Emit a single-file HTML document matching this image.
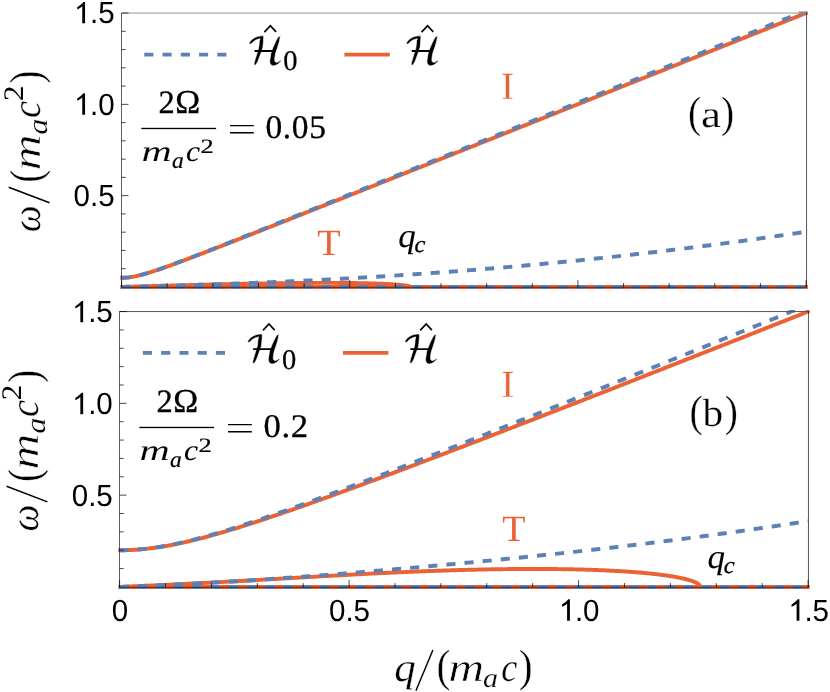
<!DOCTYPE html>
<html lang="en"><head><meta charset="utf-8"><title>Dispersion relations</title>
<style>html,body{margin:0;padding:0;background:#fff}body{width:830px;height:692px;overflow:hidden;font-family:"Liberation Serif",serif}svg{display:block}</style></head><body>
<svg width="830" height="692" viewBox="0 0 830 692" font-family="'Liberation Serif', serif" style="will-change:transform;text-rendering:geometricPrecision">
<rect width="830" height="692" fill="#fff"/>
<clipPath id="clipA"><rect x="120.30" y="11.45" width="687.55" height="278.25"/></clipPath>
<g clip-path="url(#clipA)" fill="none" stroke-width="3.95" stroke-linejoin="round">
<path stroke="#EB6235" d="M119.50 286.95H809.55"/>
<polyline stroke="#EB6235" points="121.60,286.95 122.73,286.92 123.87,286.89 125.00,286.85 126.13,286.82 127.27,286.79 128.40,286.76 129.53,286.73 130.66,286.69 131.80,286.66 132.93,286.63 134.06,286.60 135.19,286.57 136.33,286.53 137.46,286.50 138.59,286.47 139.72,286.44 140.85,286.41 141.98,286.37 143.11,286.34 144.24,286.31 145.37,286.28 146.50,286.25 147.63,286.22 148.76,286.18 149.89,286.15 151.01,286.12 152.14,286.09 153.27,286.06 154.39,286.03 155.52,286.00 156.65,285.97 157.77,285.93 158.89,285.90 160.02,285.87 161.14,285.84 162.26,285.81 163.38,285.78 164.51,285.75 165.63,285.72 166.75,285.69 167.86,285.66 168.98,285.63 170.10,285.60 171.22,285.57 172.33,285.54 173.45,285.51 174.56,285.48 175.68,285.45 176.79,285.42 177.90,285.39 179.01,285.36 180.12,285.33 181.23,285.30 182.34,285.27 183.45,285.24 184.55,285.21 185.66,285.18 186.76,285.15 187.87,285.12 188.97,285.10 190.07,285.07 191.17,285.04 192.27,285.01 193.37,284.98 194.47,284.95 195.56,284.93 196.66,284.90 197.75,284.87 198.84,284.84 199.93,284.82 201.02,284.79 202.11,284.76 203.20,284.74 204.29,284.71 205.37,284.68 206.46,284.65 207.54,284.63 208.62,284.60 209.70,284.58 210.78,284.55 211.86,284.52 212.93,284.50 214.01,284.47 215.08,284.45 216.15,284.42 217.22,284.40 218.29,284.37 219.36,284.35 220.42,284.32 221.49,284.30 222.55,284.27 223.61,284.25 224.67,284.23 225.73,284.20 226.78,284.18 227.84,284.15 228.89,284.13 229.94,284.11 230.99,284.09 232.04,284.06 233.08,284.04 234.13,284.02 235.17,284.00 236.21,283.97 237.25,283.95 238.29,283.93 239.32,283.91 240.36,283.89 241.39,283.87 242.42,283.85 243.45,283.82 244.48,283.80 245.50,283.78 246.52,283.76 247.54,283.74 248.56,283.72 249.58,283.70 250.59,283.68 251.61,283.67 252.62,283.65 253.63,283.63 254.63,283.61 255.64,283.59 256.64,283.57 257.64,283.56 258.64,283.54 259.63,283.52 260.63,283.50 261.62,283.49 262.61,283.47 263.60,283.45 264.58,283.44 265.57,283.42 266.55,283.40 267.53,283.39 268.50,283.37 269.48,283.36 270.45,283.34 271.42,283.33 272.39,283.31 273.35,283.30 274.32,283.28 275.28,283.27 276.23,283.26 277.19,283.24 278.14,283.23 279.09,283.22 280.04,283.20 280.99,283.19 281.93,283.18 282.87,283.17 283.81,283.15 284.75,283.14 285.68,283.13 286.61,283.12 287.54,283.11 288.47,283.10 289.39,283.09 290.31,283.08 291.23,283.07 292.14,283.06 293.06,283.05 293.97,283.04 294.87,283.03 295.78,283.02 296.68,283.01 297.58,283.00 298.48,283.00 299.37,282.99 300.26,282.98 301.15,282.97 302.04,282.97 302.92,282.96 303.80,282.95 304.68,282.95 305.55,282.94 306.43,282.93 307.29,282.93 308.16,282.92 309.02,282.92 309.88,282.91 310.74,282.91 311.60,282.90 312.45,282.90 313.30,282.90 314.14,282.89 314.98,282.89 315.82,282.89 316.66,282.88 317.49,282.88 318.33,282.88 319.15,282.87 319.98,282.87 320.80,282.87 321.62,282.87 322.43,282.87 323.25,282.87 324.05,282.87 324.86,282.87 325.66,282.87 326.46,282.87 327.26,282.87 328.05,282.87 328.84,282.87 329.63,282.87 330.41,282.87 331.20,282.87 331.97,282.87 332.75,282.88 333.52,282.88 334.29,282.88 335.05,282.89 335.81,282.89 336.57,282.89 337.32,282.90 338.07,282.90 338.82,282.90 339.57,282.91 340.31,282.91 341.05,282.92 341.78,282.92 342.51,282.93 343.24,282.93 343.96,282.94 344.68,282.95 345.40,282.95 346.11,282.96 346.82,282.97 347.53,282.97 348.23,282.98 348.93,282.99 349.63,283.00 350.32,283.00 351.01,283.01 351.70,283.02 352.38,283.03 353.06,283.04 353.73,283.05 354.41,283.06 355.07,283.07 355.74,283.08 356.40,283.09 357.06,283.10 357.71,283.11 358.36,283.12 359.01,283.13 359.65,283.14 360.29,283.15 360.92,283.17 361.55,283.18 362.18,283.19 362.81,283.20 363.43,283.22 364.04,283.23 364.66,283.24 365.26,283.26 365.87,283.27 366.47,283.28 367.07,283.30 367.66,283.31 368.25,283.33 368.84,283.34 369.42,283.36 370.00,283.37 370.58,283.39 371.15,283.40 371.71,283.42 372.28,283.44 372.84,283.45 373.39,283.47 373.94,283.49 374.49,283.50 375.04,283.52 375.58,283.54 376.11,283.56 376.65,283.57 377.17,283.59 377.70,283.61 378.22,283.63 378.74,283.65 379.25,283.67 379.76,283.68 380.26,283.70 380.76,283.72 381.26,283.74 381.75,283.76 382.24,283.78 382.72,283.80 383.20,283.82 383.68,283.85 384.15,283.87 384.62,283.89 385.09,283.91 385.55,283.93 386.00,283.95 386.45,283.97 386.90,284.00 387.35,284.02 387.79,284.04 388.22,284.06 388.65,284.09 389.08,284.11 389.50,284.13 389.92,284.15 390.34,284.18 390.75,284.20 391.16,284.23 391.56,284.25 391.96,284.27 392.35,284.30 392.74,284.32 393.13,284.35 393.51,284.37 393.89,284.40 394.26,284.42 394.63,284.45 395.00,284.47 395.36,284.50 395.71,284.52 396.06,284.55 396.41,284.58 396.76,284.60 397.10,284.63 397.43,284.65 397.76,284.68 398.09,284.71 398.41,284.74 398.73,284.76 399.04,284.79 399.35,284.82 399.66,284.84 399.96,284.87 400.26,284.90 400.55,284.93 400.84,284.95 401.12,284.98 401.40,285.01 401.68,285.04 401.95,285.07 402.22,285.10 402.48,285.12 402.74,285.15 402.99,285.18 403.24,285.21 403.48,285.24 403.73,285.27 403.96,285.30 404.19,285.33 404.42,285.36 404.64,285.39 404.86,285.42 405.08,285.45 405.29,285.48 405.49,285.51 405.70,285.54 405.89,285.57 406.08,285.60 406.27,285.63 406.46,285.66 406.64,285.69 406.81,285.72 406.98,285.75 407.15,285.78 407.31,285.81 407.47,285.84 407.62,285.87 407.77,285.90 407.91,285.93 408.05,285.97 408.19,286.00 408.32,286.03 408.45,286.06 408.57,286.09 408.69,286.12 408.80,286.15 408.91,286.18 409.01,286.22 409.11,286.25 409.21,286.28 409.30,286.31 409.39,286.34 409.47,286.37 409.55,286.41 409.62,286.44 409.69,286.47 409.75,286.50 409.81,286.53 409.87,286.57 409.92,286.60 409.97,286.63 410.01,286.66 410.05,286.69 410.08,286.73 410.11,286.76 410.13,286.79 410.15,286.82 410.17,286.85 410.18,286.89 410.19,286.92 410.19,286.95"/>
<polyline stroke="#EB6235" points="119.77,277.79 122.09,277.82 124.41,277.75 126.73,277.59 129.05,277.35 131.36,277.02 133.68,276.62 136.00,276.16 138.32,275.63 140.64,275.06 142.95,274.45 145.27,273.80 147.59,273.11 149.91,272.41 152.23,271.67 154.54,270.92 156.86,270.15 159.18,269.36 161.50,268.57 163.82,267.75 166.13,266.93 168.45,266.11 170.77,265.27 173.09,264.42 175.41,263.57 177.72,262.72 180.04,261.86 182.36,260.99 184.68,260.12 187.00,259.25 189.31,258.37 191.63,257.49 193.95,256.61 196.27,255.72 198.59,254.83 200.90,253.94 203.22,253.05 205.54,252.16 207.86,251.26 210.18,250.37 212.49,249.47 214.81,248.57 217.13,247.67 219.45,246.76 221.77,245.86 224.08,244.96 226.40,244.05 228.72,243.14 231.04,242.24 233.36,241.33 235.67,240.42 237.99,239.51 240.31,238.60 242.63,237.69 244.95,236.78 247.27,235.87 249.58,234.95 251.90,234.04 254.22,233.13 256.54,232.21 258.86,231.30 261.17,230.39 263.49,229.47 265.81,228.56 268.13,227.64 270.45,226.72 272.76,225.81 275.08,224.89 277.40,223.97 279.72,223.05 282.04,222.14 284.35,221.22 286.67,220.30 288.99,219.38 291.31,218.46 293.63,217.54 295.94,216.63 298.26,215.71 300.58,214.79 302.90,213.87 305.22,212.95 307.53,212.03 309.85,211.11 312.17,210.19 314.49,209.27 316.81,208.35 319.12,207.42 321.44,206.50 323.76,205.58 326.08,204.66 328.40,203.74 330.71,202.82 333.03,201.90 335.35,200.97 337.67,200.05 339.99,199.13 342.30,198.21 344.62,197.29 346.94,196.36 349.26,195.44 351.58,194.52 353.89,193.60 356.21,192.67 358.53,191.75 360.85,190.83 363.17,189.90 365.48,188.98 367.80,188.06 370.12,187.14 372.44,186.21 374.76,185.29 377.07,184.37 379.39,183.44 381.71,182.52 384.03,181.60 386.35,180.67 388.66,179.75 390.98,178.82 393.30,177.90 395.62,176.98 397.94,176.05 400.25,175.13 402.57,174.20 404.89,173.28 407.21,172.36 409.53,171.43 411.84,170.51 414.16,169.58 416.48,168.66 418.80,167.73 421.12,166.81 423.43,165.89 425.75,164.96 428.07,164.04 430.39,163.11 432.71,162.19 435.02,161.26 437.34,160.34 439.66,159.41 441.98,158.49 444.30,157.56 446.61,156.64 448.93,155.71 451.25,154.79 453.57,153.87 455.89,152.94 458.20,152.02 460.52,151.09 462.84,150.17 465.16,149.24 467.48,148.32 469.79,147.39 472.11,146.46 474.43,145.54 476.75,144.61 479.07,143.69 481.38,142.76 483.70,141.84 486.02,140.91 488.34,139.99 490.66,139.06 492.97,138.14 495.29,137.21 497.61,136.29 499.93,135.36 502.25,134.44 504.56,133.51 506.88,132.59 509.20,131.66 511.52,130.73 513.84,129.81 516.15,128.88 518.47,127.96 520.79,127.03 523.11,126.11 525.43,125.18 527.74,124.26 530.06,123.33 532.38,122.40 534.70,121.48 537.02,120.55 539.33,119.63 541.65,118.70 543.97,117.78 546.29,116.85 548.61,115.92 550.92,115.00 553.24,114.07 555.56,113.15 557.88,112.22 560.20,111.29 562.51,110.37 564.83,109.44 567.15,108.52 569.47,107.59 571.79,106.67 574.10,105.74 576.42,104.81 578.74,103.89 581.06,102.96 583.38,102.04 585.69,101.11 588.01,100.18 590.33,99.26 592.65,98.33 594.97,97.41 597.28,96.48 599.60,95.55 601.92,94.63 604.24,93.70 606.56,92.78 608.87,91.85 611.19,90.92 613.51,90.00 615.83,89.07 618.15,88.15 620.46,87.22 622.78,86.29 625.10,85.37 627.42,84.44 629.74,83.51 632.05,82.59 634.37,81.66 636.69,80.74 639.01,79.81 641.33,78.88 643.64,77.96 645.96,77.03 648.28,76.11 650.60,75.18 652.92,74.25 655.23,73.33 657.55,72.40 659.87,71.47 662.19,70.55 664.51,69.62 666.82,68.70 669.14,67.77 671.46,66.84 673.78,65.92 676.10,64.99 678.41,64.06 680.73,63.14 683.05,62.21 685.37,61.28 687.69,60.36 690.00,59.43 692.32,58.51 694.64,57.58 696.96,56.65 699.28,55.73 701.59,54.80 703.91,53.87 706.23,52.95 708.55,52.02 710.87,51.09 713.18,50.17 715.50,49.24 717.82,48.32 720.14,47.39 722.46,46.46 724.77,45.54 727.09,44.61 729.41,43.68 731.73,42.76 734.05,41.83 736.36,40.90 738.68,39.98 741.00,39.05 743.32,38.12 745.64,37.20 747.95,36.27 750.27,35.35 752.59,34.42 754.91,33.49 757.23,32.57 759.54,31.64 761.86,30.71 764.18,29.79 766.50,28.86 768.82,27.93 771.13,27.01 773.45,26.08 775.77,25.15 778.09,24.23 780.41,23.30 782.72,22.37 785.04,21.45 787.36,20.52 789.68,19.59 792.00,18.67 794.31,17.74 796.63,16.81 798.95,15.89 801.27,14.96 803.59,14.03 805.90,13.11 808.22,12.18 810.54,11.26 812.86,10.33 815.18,9.40"/>
<g stroke="#5E81B5" stroke-dasharray="9.1 9.1">
<polyline points="121.60,286.95 463.82,286.95 806.05,286.95"/>
<polyline points="121.60,286.95 123.88,286.89 126.16,286.83 128.44,286.77 130.73,286.71 133.01,286.65 135.29,286.59 137.57,286.54 139.85,286.48 142.13,286.42 144.41,286.36 146.70,286.30 148.98,286.23 151.26,286.17 153.54,286.11 155.82,286.05 158.10,285.99 160.39,285.93 162.67,285.86 164.95,285.80 167.23,285.74 169.51,285.67 171.79,285.61 174.07,285.55 176.36,285.48 178.64,285.41 180.92,285.35 183.20,285.28 185.48,285.21 187.76,285.15 190.04,285.08 192.33,285.01 194.61,284.94 196.89,284.87 199.17,284.80 201.45,284.73 203.73,284.65 206.02,284.58 208.30,284.51 210.58,284.43 212.86,284.36 215.14,284.28 217.42,284.21 219.70,284.13 221.99,284.05 224.27,283.97 226.55,283.89 228.83,283.81 231.11,283.73 233.39,283.65 235.67,283.57 237.96,283.48 240.24,283.40 242.52,283.31 244.80,283.23 247.08,283.14 249.36,283.05 251.65,282.96 253.93,282.87 256.21,282.78 258.49,282.69 260.77,282.60 263.05,282.51 265.33,282.41 267.62,282.32 269.90,282.22 272.18,282.13 274.46,282.03 276.74,281.93 279.02,281.83 281.30,281.73 283.59,281.63 285.87,281.53 288.15,281.43 290.43,281.32 292.71,281.22 294.99,281.11 297.28,281.00 299.56,280.90 301.84,280.79 304.12,280.68 306.40,280.57 308.68,280.46 310.96,280.35 313.25,280.23 315.53,280.12 317.81,280.00 320.09,279.89 322.37,279.77 324.65,279.65 326.93,279.54 329.22,279.42 331.50,279.30 333.78,279.17 336.06,279.05 338.34,278.93 340.62,278.80 342.91,278.68 345.19,278.55 347.47,278.43 349.75,278.30 352.03,278.17 354.31,278.04 356.59,277.91 358.88,277.78 361.16,277.64 363.44,277.51 365.72,277.38 368.00,277.24 370.28,277.10 372.56,276.97 374.85,276.83 377.13,276.69 379.41,276.55 381.69,276.41 383.97,276.26 386.25,276.12 388.54,275.98 390.82,275.83 393.10,275.68 395.38,275.54 397.66,275.39 399.94,275.24 402.22,275.09 404.51,274.94 406.79,274.79 409.07,274.63 411.35,274.48 413.63,274.32 415.91,274.17 418.19,274.01 420.48,273.85 422.76,273.69 425.04,273.53 427.32,273.37 429.60,273.21 431.88,273.05 434.17,272.88 436.45,272.72 438.73,272.55 441.01,272.39 443.29,272.22 445.57,272.05 447.85,271.88 450.14,271.71 452.42,271.54 454.70,271.36 456.98,271.19 459.26,271.01 461.54,270.84 463.82,270.66 466.11,270.48 468.39,270.30 470.67,270.12 472.95,269.94 475.23,269.76 477.51,269.58 479.80,269.39 482.08,269.21 484.36,269.02 486.64,268.83 488.92,268.64 491.20,268.45 493.48,268.26 495.77,268.07 498.05,267.88 500.33,267.68 502.61,267.49 504.89,267.29 507.17,267.10 509.45,266.90 511.74,266.70 514.02,266.50 516.30,266.30 518.58,266.09 520.86,265.89 523.14,265.69 525.43,265.48 527.71,265.27 529.99,265.07 532.27,264.86 534.55,264.65 536.83,264.44 539.11,264.23 541.40,264.01 543.68,263.80 545.96,263.58 548.24,263.37 550.52,263.15 552.80,262.93 555.08,262.71 557.37,262.49 559.65,262.27 561.93,262.05 564.21,261.82 566.49,261.60 568.77,261.37 571.06,261.14 573.34,260.91 575.62,260.69 577.90,260.46 580.18,260.22 582.46,259.99 584.74,259.76 587.03,259.52 589.31,259.29 591.59,259.05 593.87,258.81 596.15,258.57 598.43,258.33 600.71,258.09 603.00,257.85 605.28,257.60 607.56,257.36 609.84,257.11 612.12,256.86 614.40,256.62 616.69,256.37 618.97,256.12 621.25,255.87 623.53,255.61 625.81,255.36 628.09,255.10 630.37,254.85 632.66,254.59 634.94,254.33 637.22,254.07 639.50,253.81 641.78,253.55 644.06,253.29 646.34,253.03 648.63,252.76 650.91,252.49 653.19,252.23 655.47,251.96 657.75,251.69 660.03,251.42 662.32,251.15 664.60,250.87 666.88,250.60 669.16,250.33 671.44,250.05 673.72,249.77 676.00,249.49 678.29,249.21 680.57,248.93 682.85,248.65 685.13,248.37 687.41,248.09 689.69,247.80 691.98,247.51 694.26,247.23 696.54,246.94 698.82,246.65 701.10,246.36 703.38,246.07 705.66,245.77 707.95,245.48 710.23,245.18 712.51,244.89 714.79,244.59 717.07,244.29 719.35,243.99 721.63,243.69 723.92,243.39 726.20,243.09 728.48,242.78 730.76,242.48 733.04,242.17 735.32,241.86 737.61,241.55 739.89,241.24 742.17,240.93 744.45,240.62 746.73,240.31 749.01,239.99 751.29,239.68 753.58,239.36 755.86,239.04 758.14,238.72 760.42,238.40 762.70,238.08 764.98,237.76 767.26,237.44 769.55,237.11 771.83,236.79 774.11,236.46 776.39,236.13 778.67,235.80 780.95,235.47 783.23,235.14 785.52,234.81 787.80,234.47 790.08,234.14 792.36,233.80 794.64,233.47 796.92,233.13 799.21,232.79 801.49,232.45 803.77,232.11 806.05,231.76"/>
<polyline points="121.60,277.82 123.88,277.77 126.16,277.64 128.44,277.41 130.73,277.11 133.01,276.73 135.29,276.28 137.57,275.78 139.85,275.22 142.13,274.62 144.41,273.99 146.70,273.32 148.98,272.62 151.26,271.90 153.54,271.16 155.82,270.40 158.10,269.62 160.39,268.83 162.67,268.03 164.95,267.22 167.23,266.40 169.51,265.57 171.79,264.74 174.07,263.89 176.36,263.05 178.64,262.19 180.92,261.33 183.20,260.47 185.48,259.61 187.76,258.74 190.04,257.86 192.33,256.99 194.61,256.11 196.89,255.23 199.17,254.35 201.45,253.46 203.73,252.58 206.02,251.69 208.30,250.80 210.58,249.91 212.86,249.01 215.14,248.12 217.42,247.23 219.70,246.33 221.99,245.43 224.27,244.53 226.55,243.63 228.83,242.73 231.11,241.83 233.39,240.93 235.67,240.03 237.96,239.12 240.24,238.22 242.52,237.32 244.80,236.41 247.08,235.51 249.36,234.60 251.65,233.69 253.93,232.79 256.21,231.88 258.49,230.97 260.77,230.06 263.05,229.15 265.33,228.24 267.62,227.33 269.90,226.42 272.18,225.51 274.46,224.60 276.74,223.69 279.02,222.78 281.30,221.87 283.59,220.96 285.87,220.05 288.15,219.14 290.43,218.22 292.71,217.31 294.99,216.40 297.28,215.49 299.56,214.57 301.84,213.66 304.12,212.75 306.40,211.83 308.68,210.92 310.96,210.00 313.25,209.09 315.53,208.18 317.81,207.26 320.09,206.35 322.37,205.43 324.65,204.52 326.93,203.60 329.22,202.69 331.50,201.77 333.78,200.86 336.06,199.94 338.34,199.03 340.62,198.11 342.91,197.20 345.19,196.28 347.47,195.36 349.75,194.45 352.03,193.53 354.31,192.62 356.59,191.70 358.88,190.78 361.16,189.87 363.44,188.95 365.72,188.03 368.00,187.12 370.28,186.20 372.56,185.28 374.85,184.37 377.13,183.45 379.41,182.53 381.69,181.62 383.97,180.70 386.25,179.78 388.54,178.87 390.82,177.95 393.10,177.03 395.38,176.11 397.66,175.20 399.94,174.28 402.22,173.36 404.51,172.44 406.79,171.53 409.07,170.61 411.35,169.69 413.63,168.77 415.91,167.85 418.19,166.94 420.48,166.02 422.76,165.10 425.04,164.18 427.32,163.27 429.60,162.35 431.88,161.43 434.17,160.51 436.45,159.59 438.73,158.67 441.01,157.76 443.29,156.84 445.57,155.92 447.85,155.00 450.14,154.08 452.42,153.17 454.70,152.25 456.98,151.33 459.26,150.41 461.54,149.49 463.82,148.57 466.11,147.65 468.39,146.74 470.67,145.82 472.95,144.90 475.23,143.98 477.51,143.06 479.80,142.14 482.08,141.22 484.36,140.31 486.64,139.39 488.92,138.47 491.20,137.55 493.48,136.63 495.77,135.71 498.05,134.79 500.33,133.87 502.61,132.96 504.89,132.04 507.17,131.12 509.45,130.20 511.74,129.28 514.02,128.36 516.30,127.44 518.58,126.52 520.86,125.60 523.14,124.68 525.43,123.77 527.71,122.85 529.99,121.93 532.27,121.01 534.55,120.09 536.83,119.17 539.11,118.25 541.40,117.33 543.68,116.41 545.96,115.49 548.24,114.57 550.52,113.66 552.80,112.74 555.08,111.82 557.37,110.90 559.65,109.98 561.93,109.06 564.21,108.14 566.49,107.22 568.77,106.30 571.06,105.38 573.34,104.46 575.62,103.54 577.90,102.62 580.18,101.70 582.46,100.78 584.74,99.87 587.03,98.95 589.31,98.03 591.59,97.11 593.87,96.19 596.15,95.27 598.43,94.35 600.71,93.43 603.00,92.51 605.28,91.59 607.56,90.67 609.84,89.75 612.12,88.83 614.40,87.91 616.69,86.99 618.97,86.07 621.25,85.15 623.53,84.23 625.81,83.31 628.09,82.39 630.37,81.48 632.66,80.56 634.94,79.64 637.22,78.72 639.50,77.80 641.78,76.88 644.06,75.96 646.34,75.04 648.63,74.12 650.91,73.20 653.19,72.28 655.47,71.36 657.75,70.44 660.03,69.52 662.32,68.60 664.60,67.68 666.88,66.76 669.16,65.84 671.44,64.92 673.72,64.00 676.00,63.08 678.29,62.16 680.57,61.24 682.85,60.32 685.13,59.40 687.41,58.48 689.69,57.56 691.98,56.64 694.26,55.72 696.54,54.80 698.82,53.88 701.10,52.96 703.38,52.04 705.66,51.12 707.95,50.21 710.23,49.29 712.51,48.37 714.79,47.45 717.07,46.53 719.35,45.61 721.63,44.69 723.92,43.77 726.20,42.85 728.48,41.93 730.76,41.01 733.04,40.09 735.32,39.17 737.61,38.25 739.89,37.33 742.17,36.41 744.45,35.49 746.73,34.57 749.01,33.65 751.29,32.73 753.58,31.81 755.86,30.89 758.14,29.97 760.42,29.05 762.70,28.13 764.98,27.21 767.26,26.29 769.55,25.37 771.83,24.45 774.11,23.53 776.39,22.61 778.67,21.69 780.95,20.77 783.23,19.85 785.52,18.93 787.80,18.01 790.08,17.09 792.36,16.17 794.64,15.25 796.92,14.33 799.21,13.41 801.49,12.49 803.77,11.57 806.05,10.65"/>
</g></g>
<path d="M121.50 13.05H806.55" fill="none" stroke="#979797" stroke-width="1"/>
<path d="M806.55 12.55V287.30" fill="none" stroke="#000" stroke-opacity="0.7" stroke-width="0.95"/>
<path d="M121.50 13.05V287.30H806.55" fill="none" stroke="#000" stroke-opacity="0.62" stroke-width="1"/>
<path d="M121.60 287.30v-7.20M121.50 268.69h4.20M167.23 287.30v-4.20M121.50 250.43h4.20M212.86 287.30v-4.20M121.50 232.17h4.20M258.49 287.30v-4.20M121.50 213.91h4.20M304.12 287.30v-4.20M121.50 195.65h7.00M349.75 287.30v-7.20M121.50 177.39h4.20M395.38 287.30v-4.20M121.50 159.13h4.20M441.01 287.30v-4.20M121.50 140.87h4.20M486.64 287.30v-4.20M121.50 122.61h4.20M532.27 287.30v-4.20M121.50 104.35h7.00M577.90 287.30v-7.20M121.50 86.09h4.20M623.53 287.30v-4.20M121.50 67.83h4.20M669.16 287.30v-4.20M121.50 49.57h4.20M714.79 287.30v-4.20M121.50 31.31h4.20M760.42 287.30v-4.20M121.50 13.05h7.00M806.05 287.30v-7.20" fill="none" stroke="#000" stroke-opacity="0.8" stroke-width="0.9"/>
<clipPath id="clipB"><rect x="118.30" y="309.95" width="691.45" height="279.75"/></clipPath>
<g clip-path="url(#clipB)" fill="none" stroke-width="3.95" stroke-linejoin="round">
<path stroke="#EB6235" d="M117.50 586.95H811.45"/>
<polyline stroke="#EB6235" points="119.60,586.95 121.88,586.85 124.16,586.75 126.44,586.64 128.72,586.54 131.00,586.44 133.28,586.34 135.56,586.23 137.84,586.13 140.12,586.03 142.39,585.93 144.67,585.82 146.95,585.72 149.23,585.61 151.50,585.51 153.78,585.40 156.06,585.30 158.33,585.19 160.61,585.09 162.88,584.98 165.15,584.87 167.43,584.77 169.70,584.66 171.97,584.55 174.24,584.44 176.51,584.33 178.78,584.22 181.04,584.11 183.31,584.00 185.58,583.89 187.84,583.78 190.11,583.66 192.37,583.55 194.63,583.43 196.89,583.32 199.15,583.20 201.41,583.09 203.66,582.97 205.92,582.86 208.17,582.74 210.42,582.62 212.68,582.50 214.93,582.38 217.17,582.26 219.42,582.14 221.67,582.02 223.91,581.90 226.15,581.78 228.39,581.65 230.63,581.53 232.87,581.41 235.10,581.28 237.34,581.16 239.57,581.04 241.80,580.91 244.03,580.79 246.25,580.66 248.48,580.53 250.70,580.41 252.92,580.28 255.14,580.16 257.35,580.03 259.57,579.90 261.78,579.77 263.99,579.65 266.20,579.52 268.40,579.39 270.60,579.26 272.80,579.14 275.00,579.01 277.20,578.88 279.39,578.75 281.58,578.63 283.77,578.50 285.95,578.37 288.14,578.24 290.32,578.12 292.50,577.99 294.67,577.86 296.84,577.74 299.01,577.61 301.18,577.48 303.34,577.36 305.51,577.23 307.66,577.11 309.82,576.98 311.97,576.86 314.12,576.74 316.27,576.61 318.41,576.49 320.55,576.37 322.69,576.25 324.83,576.13 326.96,576.00 329.08,575.88 331.21,575.76 333.33,575.65 335.45,575.53 337.56,575.41 339.68,575.29 341.78,575.18 343.89,575.06 345.99,574.95 348.09,574.83 350.18,574.72 352.27,574.61 354.36,574.50 356.44,574.39 358.52,574.28 360.60,574.17 362.67,574.06 364.74,573.95 366.80,573.85 368.87,573.74 370.92,573.64 372.98,573.54 375.03,573.43 377.07,573.33 379.11,573.23 381.15,573.13 383.18,573.03 385.21,572.94 387.24,572.84 389.26,572.75 391.28,572.65 393.29,572.56 395.30,572.47 397.30,572.38 399.30,572.29 401.30,572.20 403.29,572.11 405.28,572.02 407.26,571.94 409.24,571.85 411.21,571.77 413.18,571.69 415.15,571.61 417.11,571.53 419.06,571.45 421.01,571.37 422.96,571.30 424.90,571.22 426.84,571.15 428.77,571.08 430.70,571.00 432.62,570.93 434.54,570.86 436.45,570.80 438.36,570.73 440.26,570.67 442.16,570.60 444.05,570.54 445.94,570.48 447.83,570.42 449.70,570.36 451.58,570.30 453.44,570.24 455.31,570.19 457.17,570.13 459.02,570.08 460.86,570.03 462.71,569.98 464.54,569.93 466.37,569.88 468.20,569.83 470.02,569.79 471.84,569.74 473.65,569.70 475.45,569.66 477.25,569.61 479.04,569.57 480.83,569.54 482.61,569.50 484.39,569.46 486.16,569.43 487.93,569.39 489.68,569.36 491.44,569.33 493.19,569.30 494.93,569.27 496.67,569.25 498.40,569.22 500.12,569.19 501.84,569.17 503.55,569.15 505.26,569.13 506.96,569.11 508.66,569.09 510.35,569.07 512.03,569.05 513.71,569.04 515.38,569.02 517.04,569.01 518.70,569.00 520.36,568.99 522.00,568.98 523.64,568.97 525.28,568.97 526.91,568.96 528.53,568.96 530.14,568.95 531.75,568.95 533.35,568.95 534.95,568.95 536.54,568.95 538.12,568.95 539.70,568.96 541.27,568.96 542.83,568.97 544.39,568.98 545.94,568.98 547.49,568.99 549.03,569.01 550.56,569.02 552.08,569.03 553.60,569.05 555.11,569.06 556.61,569.08 558.11,569.10 559.60,569.11 561.09,569.14 562.56,569.16 564.04,569.18 565.50,569.20 566.96,569.23 568.41,569.25 569.85,569.28 571.28,569.31 572.71,569.34 574.14,569.37 575.55,569.40 576.96,569.43 578.36,569.47 579.75,569.50 581.14,569.54 582.52,569.57 583.89,569.61 585.26,569.65 586.62,569.69 587.97,569.73 589.31,569.78 590.65,569.82 591.98,569.86 593.30,569.91 594.61,569.96 595.92,570.01 597.22,570.05 598.51,570.10 599.80,570.16 601.08,570.21 602.35,570.26 603.61,570.32 604.86,570.37 606.11,570.43 607.35,570.48 608.59,570.54 609.81,570.60 611.03,570.66 612.24,570.72 613.44,570.79 614.64,570.85 615.83,570.92 617.01,570.98 618.18,571.05 619.34,571.12 620.50,571.18 621.65,571.25 622.79,571.32 623.92,571.40 625.05,571.47 626.17,571.54 627.28,571.62 628.38,571.69 629.47,571.77 630.56,571.84 631.64,571.92 632.71,572.00 633.77,572.08 634.83,572.16 635.87,572.24 636.91,572.33 637.94,572.41 638.97,572.50 639.98,572.58 640.99,572.67 641.99,572.76 642.98,572.84 643.96,572.93 644.94,573.02 645.90,573.11 646.86,573.20 647.81,573.30 648.76,573.39 649.69,573.48 650.62,573.58 651.53,573.68 652.44,573.77 653.34,573.87 654.24,573.97 655.12,574.07 656.00,574.17 656.87,574.27 657.73,574.37 658.58,574.47 659.42,574.57 660.26,574.68 661.08,574.78 661.90,574.89 662.71,574.99 663.52,575.10 664.31,575.21 665.09,575.32 665.87,575.43 666.64,575.54 667.40,575.65 668.15,575.76 668.89,575.87 669.63,575.98 670.35,576.10 671.07,576.21 671.78,576.32 672.48,576.44 673.17,576.55 673.85,576.67 674.53,576.79 675.19,576.91 675.85,577.02 676.50,577.14 677.14,577.26 677.77,577.38 678.40,577.50 679.01,577.62 679.62,577.75 680.21,577.87 680.80,577.99 681.38,578.12 681.95,578.24 682.52,578.36 683.07,578.49 683.62,578.62 684.15,578.74 684.68,578.87 685.20,579.00 685.71,579.12 686.21,579.25 686.70,579.38 687.19,579.51 687.66,579.64 688.13,579.77 688.59,579.90 689.04,580.03 689.48,580.16 689.91,580.29 690.33,580.43 690.75,580.56 691.15,580.69 691.55,580.83 691.94,580.96 692.32,581.09 692.69,581.23 693.05,581.36 693.40,581.50 693.74,581.63 694.08,581.77 694.40,581.91 694.72,582.04 695.03,582.18 695.33,582.32 695.62,582.45 695.90,582.59 696.17,582.73 696.43,582.87 696.69,583.01 696.93,583.14 697.17,583.28 697.40,583.42 697.62,583.56 697.83,583.70 698.03,583.84 698.22,583.98 698.40,584.12 698.58,584.26 698.74,584.40 698.90,584.54 699.05,584.68 699.19,584.82 699.32,584.97 699.44,585.11 699.55,585.25 699.65,585.39 699.75,585.53 699.83,585.67 699.91,585.81 699.97,585.96 700.03,586.10 700.08,586.24 700.12,586.38 700.15,586.52 700.18,586.67 700.19,586.81 700.19,586.95"/>
<polyline stroke="#EB6235" points="117.76,550.22 120.10,550.23 122.43,550.22 124.76,550.19 127.09,550.13 129.42,550.05 131.75,549.95 134.09,549.82 136.42,549.67 138.75,549.50 141.08,549.31 143.41,549.10 145.74,548.86 148.08,548.61 150.41,548.33 152.74,548.03 155.07,547.72 157.40,547.38 159.73,547.03 162.07,546.66 164.40,546.27 166.73,545.87 169.06,545.45 171.39,545.01 173.73,544.56 176.06,544.09 178.39,543.60 180.72,543.11 183.05,542.60 185.38,542.07 187.72,541.54 190.05,540.99 192.38,540.43 194.71,539.86 197.04,539.28 199.37,538.68 201.71,538.08 204.04,537.47 206.37,536.85 208.70,536.22 211.03,535.58 213.36,534.93 215.70,534.27 218.03,533.61 220.36,532.94 222.69,532.26 225.02,531.57 227.35,530.88 229.69,530.18 232.02,529.48 234.35,528.76 236.68,528.05 239.01,527.32 241.35,526.60 243.68,525.86 246.01,525.12 248.34,524.38 250.67,523.63 253.00,522.88 255.34,522.13 257.67,521.36 260.00,520.60 262.33,519.83 264.66,519.06 266.99,518.28 269.33,517.50 271.66,516.72 273.99,515.93 276.32,515.14 278.65,514.35 280.98,513.55 283.32,512.75 285.65,511.95 287.98,511.15 290.31,510.34 292.64,509.53 294.97,508.72 297.31,507.91 299.64,507.09 301.97,506.27 304.30,505.45 306.63,504.63 308.97,503.80 311.30,502.97 313.63,502.14 315.96,501.31 318.29,500.48 320.62,499.64 322.96,498.81 325.29,497.97 327.62,497.13 329.95,496.29 332.28,495.44 334.61,494.60 336.95,493.75 339.28,492.90 341.61,492.05 343.94,491.20 346.27,490.35 348.60,489.50 350.94,488.64 353.27,487.79 355.60,486.93 357.93,486.07 360.26,485.21 362.59,484.35 364.93,483.49 367.26,482.63 369.59,481.76 371.92,480.90 374.25,480.03 376.58,479.17 378.92,478.30 381.25,477.43 383.58,476.56 385.91,475.69 388.24,474.82 390.58,473.95 392.91,473.07 395.24,472.20 397.57,471.32 399.90,470.45 402.23,469.57 404.57,468.69 406.90,467.82 409.23,466.94 411.56,466.06 413.89,465.18 416.22,464.30 418.56,463.42 420.89,462.53 423.22,461.65 425.55,460.77 427.88,459.88 430.21,459.00 432.55,458.11 434.88,457.23 437.21,456.34 439.54,455.46 441.87,454.57 444.20,453.68 446.54,452.79 448.87,451.90 451.20,451.01 453.53,450.12 455.86,449.23 458.20,448.34 460.53,447.45 462.86,446.56 465.19,445.66 467.52,444.77 469.85,443.88 472.19,442.98 474.52,442.09 476.85,441.19 479.18,440.30 481.51,439.40 483.84,438.51 486.18,437.61 488.51,436.71 490.84,435.82 493.17,434.92 495.50,434.02 497.83,433.12 500.17,432.22 502.50,431.32 504.83,430.42 507.16,429.52 509.49,428.62 511.82,427.72 514.16,426.82 516.49,425.92 518.82,425.02 521.15,424.12 523.48,423.21 525.82,422.31 528.15,421.41 530.48,420.50 532.81,419.60 535.14,418.70 537.47,417.79 539.81,416.89 542.14,415.98 544.47,415.08 546.80,414.17 549.13,413.27 551.46,412.36 553.80,411.45 556.13,410.55 558.46,409.64 560.79,408.73 563.12,407.83 565.45,406.92 567.79,406.01 570.12,405.10 572.45,404.20 574.78,403.29 577.11,402.38 579.44,401.47 581.78,400.56 584.11,399.65 586.44,398.74 588.77,397.83 591.10,396.92 593.43,396.01 595.77,395.10 598.10,394.19 600.43,393.28 602.76,392.37 605.09,391.46 607.43,390.54 609.76,389.63 612.09,388.72 614.42,387.81 616.75,386.90 619.08,385.98 621.42,385.07 623.75,384.16 626.08,383.24 628.41,382.33 630.74,381.42 633.07,380.50 635.41,379.59 637.74,378.68 640.07,377.76 642.40,376.85 644.73,375.93 647.06,375.02 649.40,374.10 651.73,373.19 654.06,372.27 656.39,371.36 658.72,370.44 661.05,369.53 663.39,368.61 665.72,367.69 668.05,366.78 670.38,365.86 672.71,364.95 675.05,364.03 677.38,363.11 679.71,362.20 682.04,361.28 684.37,360.36 686.70,359.44 689.04,358.53 691.37,357.61 693.70,356.69 696.03,355.77 698.36,354.86 700.69,353.94 703.03,353.02 705.36,352.10 707.69,351.18 710.02,350.27 712.35,349.35 714.68,348.43 717.02,347.51 719.35,346.59 721.68,345.67 724.01,344.75 726.34,343.83 728.67,342.91 731.01,342.00 733.34,341.08 735.67,340.16 738.00,339.24 740.33,338.32 742.66,337.40 745.00,336.48 747.33,335.56 749.66,334.64 751.99,333.72 754.32,332.80 756.66,331.88 758.99,330.96 761.32,330.03 763.65,329.11 765.98,328.19 768.31,327.27 770.65,326.35 772.98,325.43 775.31,324.51 777.64,323.59 779.97,322.67 782.30,321.75 784.64,320.82 786.97,319.90 789.30,318.98 791.63,318.06 793.96,317.14 796.29,316.22 798.63,315.30 800.96,314.37 803.29,313.45 805.62,312.53 807.95,311.61 810.28,310.69 812.62,309.78 814.95,308.86 817.28,307.94"/>
<g stroke="#5E81B5" stroke-dasharray="9.1 9.1">
<polyline points="119.60,586.95 463.85,586.95 808.10,586.95"/>
<polyline points="119.60,586.95 121.89,586.85 124.19,586.76 126.48,586.66 128.78,586.56 131.07,586.46 133.37,586.36 135.66,586.27 137.96,586.17 140.25,586.07 142.55,585.97 144.84,585.87 147.14,585.77 149.44,585.67 151.73,585.57 154.02,585.46 156.32,585.36 158.62,585.26 160.91,585.16 163.20,585.05 165.50,584.95 167.79,584.84 170.09,584.73 172.38,584.62 174.68,584.52 176.97,584.41 179.27,584.29 181.56,584.18 183.86,584.07 186.15,583.96 188.45,583.84 190.75,583.73 193.04,583.61 195.33,583.49 197.63,583.37 199.92,583.25 202.22,583.13 204.51,583.01 206.81,582.89 209.11,582.76 211.40,582.64 213.69,582.51 215.99,582.38 218.28,582.25 220.58,582.12 222.88,581.99 225.17,581.86 227.46,581.72 229.76,581.59 232.06,581.45 234.35,581.31 236.64,581.17 238.94,581.03 241.24,580.89 243.53,580.75 245.82,580.61 248.12,580.46 250.41,580.32 252.71,580.17 255.00,580.02 257.30,579.87 259.60,579.72 261.89,579.57 264.19,579.42 266.48,579.26 268.77,579.11 271.07,578.95 273.37,578.80 275.66,578.64 277.95,578.48 280.25,578.32 282.54,578.16 284.84,577.99 287.13,577.83 289.43,577.67 291.73,577.50 294.02,577.34 296.31,577.17 298.61,577.00 300.90,576.83 303.20,576.66 305.50,576.49 307.79,576.32 310.08,576.15 312.38,575.97 314.67,575.80 316.97,575.63 319.26,575.45 321.56,575.27 323.86,575.10 326.15,574.92 328.44,574.74 330.74,574.56 333.03,574.38 335.33,574.20 337.62,574.02 339.92,573.83 342.21,573.65 344.51,573.47 346.80,573.28 349.10,573.10 351.39,572.91 353.69,572.72 355.99,572.53 358.28,572.35 360.58,572.16 362.87,571.97 365.17,571.78 367.46,571.59 369.75,571.40 372.05,571.20 374.35,571.01 376.64,570.82 378.93,570.63 381.23,570.43 383.52,570.24 385.82,570.04 388.12,569.84 390.41,569.65 392.70,569.45 395.00,569.25 397.29,569.05 399.59,568.86 401.88,568.66 404.18,568.46 406.48,568.26 408.77,568.05 411.07,567.85 413.36,567.65 415.65,567.45 417.95,567.24 420.25,567.04 422.54,566.83 424.84,566.63 427.13,566.42 429.43,566.22 431.72,566.01 434.01,565.80 436.31,565.60 438.61,565.39 440.90,565.18 443.19,564.97 445.49,564.76 447.78,564.55 450.08,564.33 452.38,564.12 454.67,563.91 456.97,563.70 459.26,563.48 461.55,563.27 463.85,563.05 466.14,562.84 468.44,562.62 470.74,562.40 473.03,562.18 475.33,561.97 477.62,561.75 479.91,561.53 482.21,561.31 484.50,561.08 486.80,560.86 489.10,560.64 491.39,560.42 493.68,560.19 495.98,559.97 498.27,559.74 500.57,559.52 502.87,559.29 505.16,559.06 507.45,558.84 509.75,558.61 512.04,558.38 514.34,558.15 516.63,557.92 518.93,557.68 521.23,557.45 523.52,557.22 525.82,556.98 528.11,556.75 530.40,556.51 532.70,556.28 535.00,556.04 537.29,555.80 539.59,555.56 541.88,555.32 544.18,555.08 546.47,554.84 548.76,554.60 551.06,554.36 553.36,554.11 555.65,553.87 557.94,553.62 560.24,553.37 562.53,553.13 564.83,552.88 567.12,552.63 569.42,552.38 571.72,552.13 574.01,551.88 576.30,551.63 578.60,551.37 580.89,551.12 583.19,550.86 585.48,550.61 587.78,550.35 590.07,550.09 592.37,549.83 594.66,549.58 596.96,549.31 599.25,549.05 601.55,548.79 603.84,548.53 606.14,548.26 608.43,548.00 610.73,547.73 613.02,547.47 615.32,547.20 617.62,546.93 619.91,546.66 622.20,546.39 624.50,546.12 626.79,545.84 629.09,545.57 631.38,545.30 633.68,545.02 635.98,544.74 638.27,544.47 640.57,544.19 642.86,543.91 645.16,543.63 647.45,543.35 649.75,543.06 652.04,542.78 654.34,542.50 656.63,542.21 658.93,541.92 661.22,541.64 663.52,541.35 665.81,541.06 668.11,540.77 670.40,540.48 672.70,540.19 674.99,539.89 677.29,539.60 679.58,539.30 681.88,539.01 684.17,538.71 686.47,538.41 688.76,538.11 691.06,537.81 693.35,537.51 695.64,537.21 697.94,536.90 700.24,536.60 702.53,536.29 704.82,535.99 707.12,535.68 709.41,535.37 711.71,535.06 714.00,534.75 716.30,534.44 718.60,534.13 720.89,533.81 723.18,533.50 725.48,533.18 727.77,532.86 730.07,532.55 732.37,532.23 734.66,531.91 736.96,531.59 739.25,531.26 741.54,530.94 743.84,530.62 746.13,530.29 748.43,529.97 750.73,529.64 753.02,529.31 755.32,528.98 757.61,528.65 759.91,528.32 762.20,527.99 764.50,527.65 766.79,527.32 769.09,526.98 771.38,526.64 773.68,526.31 775.97,525.97 778.27,525.63 780.56,525.29 782.86,524.94 785.15,524.60 787.45,524.26 789.74,523.91 792.04,523.56 794.33,523.22 796.63,522.87 798.92,522.52 801.22,522.17 803.51,521.82 805.81,521.46 808.10,521.11"/>
<polyline points="119.60,550.23 121.89,550.22 124.19,550.19 126.48,550.14 128.78,550.06 131.07,549.96 133.37,549.84 135.66,549.69 137.96,549.53 140.25,549.33 142.55,549.12 144.84,548.89 147.14,548.63 149.44,548.36 151.73,548.06 154.02,547.74 156.32,547.41 158.62,547.05 160.91,546.68 163.20,546.29 165.50,545.88 167.79,545.45 170.09,545.01 172.38,544.56 174.68,544.08 176.97,543.60 179.27,543.10 181.56,542.58 183.86,542.05 186.15,541.51 188.45,540.96 190.75,540.39 193.04,539.81 195.33,539.23 197.63,538.63 199.92,538.02 202.22,537.40 204.51,536.77 206.81,536.13 209.11,535.49 211.40,534.83 213.69,534.17 215.99,533.50 218.28,532.82 220.58,532.13 222.88,531.44 225.17,530.74 227.46,530.03 229.76,529.32 232.06,528.60 234.35,527.87 236.64,527.14 238.94,526.41 241.24,525.67 243.53,524.92 245.82,524.17 248.12,523.41 250.41,522.65 252.71,521.89 255.00,521.12 257.30,520.35 259.60,519.57 261.89,518.79 264.19,518.00 266.48,517.22 268.77,516.42 271.07,515.63 273.37,514.83 275.66,514.03 277.95,513.23 280.25,512.42 282.54,511.61 284.84,510.80 287.13,509.98 289.43,509.16 291.73,508.34 294.02,507.52 296.31,506.70 298.61,505.87 300.90,505.04 303.20,504.21 305.50,503.37 307.79,502.54 310.08,501.70 312.38,500.86 314.67,500.02 316.97,499.17 319.26,498.33 321.56,497.48 323.86,496.63 326.15,495.78 328.44,494.93 330.74,494.08 333.03,493.22 335.33,492.37 337.62,491.51 339.92,490.65 342.21,489.79 344.51,488.93 346.80,488.07 349.10,487.20 351.39,486.34 353.69,485.47 355.99,484.60 358.28,483.73 360.58,482.86 362.87,481.99 365.17,481.12 367.46,480.25 369.75,479.37 372.05,478.50 374.35,477.62 376.64,476.74 378.93,475.86 381.23,474.99 383.52,474.11 385.82,473.23 388.12,472.34 390.41,471.46 392.70,470.58 395.00,469.69 397.29,468.81 399.59,467.92 401.88,467.04 404.18,466.15 406.48,465.26 408.77,464.38 411.07,463.49 413.36,462.60 415.65,461.71 417.95,460.82 420.25,459.92 422.54,459.03 424.84,458.14 427.13,457.25 429.43,456.35 431.72,455.46 434.01,454.56 436.31,453.67 438.61,452.77 440.90,451.87 443.19,450.97 445.49,450.08 447.78,449.18 450.08,448.28 452.38,447.38 454.67,446.48 456.97,445.58 459.26,444.68 461.55,443.78 463.85,442.88 466.14,441.97 468.44,441.07 470.74,440.17 473.03,439.26 475.33,438.36 477.62,437.46 479.91,436.55 482.21,435.65 484.50,434.74 486.80,433.83 489.10,432.93 491.39,432.02 493.68,431.11 495.98,430.21 498.27,429.30 500.57,428.39 502.87,427.48 505.16,426.57 507.45,425.66 509.75,424.75 512.04,423.84 514.34,422.93 516.63,422.02 518.93,421.11 521.23,420.20 523.52,419.29 525.82,418.38 528.11,417.47 530.40,416.55 532.70,415.64 535.00,414.73 537.29,413.82 539.59,412.90 541.88,411.99 544.18,411.07 546.47,410.16 548.76,409.24 551.06,408.33 553.36,407.41 555.65,406.50 557.94,405.58 560.24,404.67 562.53,403.75 564.83,402.84 567.12,401.92 569.42,401.00 571.72,400.08 574.01,399.17 576.30,398.25 578.60,397.33 580.89,396.41 583.19,395.50 585.48,394.58 587.78,393.66 590.07,392.74 592.37,391.82 594.66,390.90 596.96,389.98 599.25,389.06 601.55,388.14 603.84,387.22 606.14,386.30 608.43,385.38 610.73,384.46 613.02,383.54 615.32,382.62 617.62,381.70 619.91,380.78 622.20,379.86 624.50,378.93 626.79,378.01 629.09,377.09 631.38,376.17 633.68,375.24 635.98,374.32 638.27,373.40 640.57,372.48 642.86,371.55 645.16,370.63 647.45,369.71 649.75,368.78 652.04,367.86 654.34,366.94 656.63,366.01 658.93,365.09 661.22,364.16 663.52,363.24 665.81,362.31 668.11,361.39 670.40,360.46 672.70,359.54 674.99,358.61 677.29,357.69 679.58,356.76 681.88,355.84 684.17,354.91 686.47,353.99 688.76,353.06 691.06,352.13 693.35,351.21 695.64,350.28 697.94,349.36 700.24,348.43 702.53,347.50 704.82,346.58 707.12,345.65 709.41,344.72 711.71,343.79 714.00,342.87 716.30,341.94 718.60,341.01 720.89,340.09 723.18,339.16 725.48,338.23 727.77,337.30 730.07,336.37 732.37,335.45 734.66,334.52 736.96,333.59 739.25,332.66 741.54,331.73 743.84,330.81 746.13,329.88 748.43,328.95 750.73,328.02 753.02,327.09 755.32,326.16 757.61,325.23 759.91,324.30 762.20,323.38 764.50,322.45 766.79,321.52 769.09,320.59 771.38,319.66 773.68,318.73 775.97,317.80 778.27,316.87 780.56,315.94 782.86,315.01 785.15,314.08 787.45,313.15 789.74,312.22 792.04,311.29 794.33,310.36 796.63,309.43 798.92,308.50 801.22,307.57 803.51,306.64 805.81,305.71 808.10,304.78"/>
</g></g>
<path d="M119.50 311.55H808.45" fill="none" stroke="#585858" stroke-width="1"/>
<path d="M808.45 311.05V587.30" fill="none" stroke="#000" stroke-opacity="0.7" stroke-width="0.95"/>
<path d="M119.50 311.55V587.30H808.45" fill="none" stroke="#000" stroke-opacity="0.62" stroke-width="1"/>
<path d="M119.60 587.30v-7.20M119.50 568.59h4.20M165.50 587.30v-4.20M119.50 550.23h4.20M211.40 587.30v-4.20M119.50 531.87h4.20M257.30 587.30v-4.20M119.50 513.51h4.20M303.20 587.30v-4.20M119.50 495.15h7.00M349.10 587.30v-7.20M119.50 476.79h4.20M395.00 587.30v-4.20M119.50 458.43h4.20M440.90 587.30v-4.20M119.50 440.07h4.20M486.80 587.30v-4.20M119.50 421.71h4.20M532.70 587.30v-4.20M119.50 403.35h7.00M578.60 587.30v-7.20M119.50 384.99h4.20M624.50 587.30v-4.20M119.50 366.63h4.20M670.40 587.30v-4.20M119.50 348.27h4.20M716.30 587.30v-4.20M119.50 329.91h4.20M762.20 587.30v-4.20M119.50 311.55h7.00M808.10 587.30v-7.20" fill="none" stroke="#000" stroke-opacity="0.8" stroke-width="0.9"/>
<g font-family="'Liberation Sans', sans-serif" font-size="30.6" fill="#000">
<text transform="translate(114.70 205.95) scale(0.966 1)" text-anchor="end">0.5</text>
<path d="M83.40 93.25H85.05V114.65H82.25V97.60C80.95 98.75 79.25 99.75 77.20 100.75V98.45C79.75 97.00 81.80 95.40 83.40 93.25Z"/><text transform="translate(114.70 114.65) scale(0.966 1)" text-anchor="end">.0</text>
<path d="M83.40 1.95H85.05V23.35H82.25V6.30C80.95 7.45 79.25 8.45 77.20 9.45V7.15C79.75 5.70 81.80 4.10 83.40 1.95Z"/><text transform="translate(114.70 23.35) scale(0.966 1)" text-anchor="end">.5</text>
<text transform="translate(112.80 505.95) scale(0.966 1)" text-anchor="end">0.5</text>
<path d="M81.50 392.75H83.15V414.15H80.35V397.10C79.05 398.25 77.35 399.25 75.30 400.25V397.95C77.85 396.50 79.90 394.90 81.50 392.75Z"/><text transform="translate(112.80 414.15) scale(0.966 1)" text-anchor="end">.0</text>
<path d="M81.50 300.95H83.15V322.35H80.35V305.30C79.05 306.45 77.35 307.45 75.30 308.45V306.15C77.85 304.70 79.90 303.10 81.50 300.95Z"/><text transform="translate(112.80 322.35) scale(0.966 1)" text-anchor="end">.5</text>
<text transform="translate(128.22 620.70) scale(0.966 1)" text-anchor="end">0</text>
<text transform="translate(370.04 620.70) scale(0.966 1)" text-anchor="end">0.5</text>
<path d="M568.24 599.30H569.89V620.70H567.09V603.65C565.79 604.80 564.09 605.80 562.04 606.80V604.50C564.59 603.05 566.64 601.45 568.24 599.30Z"/><text transform="translate(599.54 620.70) scale(0.966 1)" text-anchor="end">.0</text>
<path d="M797.74 599.30H799.39V620.70H796.59V603.65C795.29 604.80 793.59 605.80 791.54 606.80V604.50C794.09 603.05 796.14 601.45 797.74 599.30Z"/><text transform="translate(829.04 620.70) scale(0.966 1)" text-anchor="end">.5</text>
</g>
<line x1="144.30" y1="54.65" x2="235.00" y2="54.65" stroke="#5E81B5" stroke-width="3.9" stroke-dasharray="9.1 9.15"/>
<line x1="344.40" y1="54.65" x2="389.80" y2="54.65" stroke="#EB6235" stroke-width="3.9"/>
<g transform="translate(240.00 20.00) scale(0.08673)"><path stroke="#fff" stroke-width="7" d="M103 268C120 235 160 200 210 188C235 183 255 182 273 183C272 230 268 280 263 318C256 345 248 365 240 385C231 408 224 430 216 451C208 475 200 492 190 505C186 512 181 518 176 521L163 517C160 508 166 485 176 451C183 428 190 405 196 385C204 360 212 338 216 318C220 295 222 272 223 251C224 238 228 226 232 216C200 218 165 235 135 268C125 279 110 282 103 268Z"/><path stroke="#fff" stroke-width="7" d="M440 196L466 183C462 205 457 228 453 251C447 273 440 295 433 318C425 340 417 362 410 385C405 405 402 428 400 451C398 470 402 484 415 488C430 490 450 480 469 464L474 474C455 498 425 522 395 528C365 532 343 510 343 480C343 465 345 458 346 451C350 428 353 405 356 385C364 360 372 340 380 318C390 295 400 272 410 251C420 230 430 212 440 196Z"/><path d="M164 355L172 346L398 346L396 368L170 368Z"/><path d="M281 140L350 66L416 137" fill="none" stroke="#000" stroke-width="19" stroke-linejoin="miter"/></g>
<text x="283.30" y="70.30" font-size="28.50" fill="#000" text-anchor="start" stroke="#000" stroke-width="0.25">0</text>
<g transform="translate(397.20 20.00) scale(0.08673)"><path stroke="#fff" stroke-width="7" d="M103 268C120 235 160 200 210 188C235 183 255 182 273 183C272 230 268 280 263 318C256 345 248 365 240 385C231 408 224 430 216 451C208 475 200 492 190 505C186 512 181 518 176 521L163 517C160 508 166 485 176 451C183 428 190 405 196 385C204 360 212 338 216 318C220 295 222 272 223 251C224 238 228 226 232 216C200 218 165 235 135 268C125 279 110 282 103 268Z"/><path stroke="#fff" stroke-width="7" d="M440 196L466 183C462 205 457 228 453 251C447 273 440 295 433 318C425 340 417 362 410 385C405 405 402 428 400 451C398 470 402 484 415 488C430 490 450 480 469 464L474 474C455 498 425 522 395 528C365 532 343 510 343 480C343 465 345 458 346 451C350 428 353 405 356 385C364 360 372 340 380 318C390 295 400 272 410 251C420 230 430 212 440 196Z"/><path d="M164 355L172 346L398 346L396 368L170 368Z"/><path d="M281 140L350 66L416 137" fill="none" stroke="#000" stroke-width="19" stroke-linejoin="miter"/></g>
<text x="158.60" y="112.60" font-size="32.50" fill="#000" text-anchor="start" stroke="#000" stroke-width="0.30">2</text>
<text x="175.20" y="112.60" font-size="33.50" fill="#000" text-anchor="start" stroke="#000" stroke-width="0.30">&#937;</text>
<rect x="141.30" y="127.80" width="74.8" height="1.35" fill="#000"/>
<text transform="translate(141.60 161.00) scale(1.430 1)" font-size="29.30" font-style="italic" fill="#000" text-anchor="start" stroke="#fff" stroke-width="0.10">m</text>
<text transform="translate(171.90 168.30) scale(1.020 1)" font-size="23.00" font-style="italic" fill="#000" text-anchor="start" stroke="#000" stroke-width="0.20">a</text>
<text transform="translate(186.10 161.00) scale(1.080 1)" font-size="29.30" font-style="italic" fill="#000" text-anchor="start" stroke="#000" stroke-width="0.10">c</text>
<text transform="translate(200.60 152.70) scale(1.300 1)" font-size="20.40" fill="#000" text-anchor="start" stroke="#000" stroke-width="0.20">2</text>
<path d="M230.00 125.60h23.8M230.00 132.70h23.8" stroke="#000" stroke-width="1.35" fill="none"/>
<text transform="translate(265.50 138.20) scale(1.015 1)" font-size="33.00" fill="#000" text-anchor="start" letter-spacing="0.6" stroke="#000" stroke-width="0.30">0.05</text>
<text transform="translate(328.80 255.00) scale(1.025 1)" font-size="37.20" fill="#EB6235" text-anchor="middle">T</text>
<text transform="translate(507.50 98.60) scale(1.060 1)" font-size="38.40" fill="#EB6235" text-anchor="middle" stroke="#fff" stroke-width="0.35">I</text>
<text transform="translate(398.20 246.50) scale(1.030 1)" font-size="34.00" font-style="italic" fill="#000" text-anchor="start" stroke="#000" stroke-width="0.10">q</text>
<text transform="translate(414.50 251.50) scale(1.040 1)" font-size="23.60" font-style="italic" fill="#000" text-anchor="start" stroke="#000" stroke-width="0.30">c</text>
<text transform="translate(688.00 127.00) scale(0.900 1)" font-size="44.00" fill="#000" text-anchor="start" stroke="#fff" stroke-width="0.35">(</text>
<text transform="translate(701.00 127.00) scale(1.190 1)" font-size="38.00" fill="#000" text-anchor="start" stroke="#fff" stroke-width="0.25">a</text>
<text transform="translate(721.10 127.00) scale(0.900 1)" font-size="44.00" fill="#000" text-anchor="start" stroke="#fff" stroke-width="0.35">)</text>
<g transform="translate(40.00 237.20) rotate(-90)">
<text transform="translate(4.90 0.00) scale(0.950 1)" font-size="40.00" font-style="italic" fill="#000" text-anchor="start" stroke="#fff" stroke-width="0.30">&#969;</text>
<path d="M34.4 9.5L50 -31.3" stroke="#000" stroke-width="1.45" fill="none"/>
<text transform="translate(54.40 0.60) scale(0.860 1)" font-size="45.40" fill="#000" text-anchor="start" stroke="#fff" stroke-width="0.40">(</text>
<text transform="translate(66.60 0.00) scale(1.235 1)" font-size="40.50" font-style="italic" fill="#000" text-anchor="start" stroke="#fff" stroke-width="0.56">m</text>
<text transform="translate(102.50 6.90) scale(1.150 1)" font-size="28.00" font-style="italic" fill="#000" text-anchor="start" stroke="#fff" stroke-width="0.21">a</text>
<text transform="translate(119.20 0.00) scale(0.950 1)" font-size="40.50" font-style="italic" fill="#000" text-anchor="start" stroke="#fff" stroke-width="0.30">c</text>
<text transform="translate(136.10 -16.70) scale(1.100 1)" font-size="28.30" fill="#000" text-anchor="start">2</text>
<text transform="translate(153.60 0.60) scale(0.860 1)" font-size="45.40" fill="#000" text-anchor="start" stroke="#fff" stroke-width="0.40">)</text>
</g>
<line x1="142.90" y1="352.85" x2="233.60" y2="352.85" stroke="#5E81B5" stroke-width="3.9" stroke-dasharray="9.1 9.15"/>
<line x1="343.00" y1="352.85" x2="388.40" y2="352.85" stroke="#EB6235" stroke-width="3.9"/>
<g transform="translate(238.60 318.20) scale(0.08673)"><path stroke="#fff" stroke-width="7" d="M103 268C120 235 160 200 210 188C235 183 255 182 273 183C272 230 268 280 263 318C256 345 248 365 240 385C231 408 224 430 216 451C208 475 200 492 190 505C186 512 181 518 176 521L163 517C160 508 166 485 176 451C183 428 190 405 196 385C204 360 212 338 216 318C220 295 222 272 223 251C224 238 228 226 232 216C200 218 165 235 135 268C125 279 110 282 103 268Z"/><path stroke="#fff" stroke-width="7" d="M440 196L466 183C462 205 457 228 453 251C447 273 440 295 433 318C425 340 417 362 410 385C405 405 402 428 400 451C398 470 402 484 415 488C430 490 450 480 469 464L474 474C455 498 425 522 395 528C365 532 343 510 343 480C343 465 345 458 346 451C350 428 353 405 356 385C364 360 372 340 380 318C390 295 400 272 410 251C420 230 430 212 440 196Z"/><path d="M164 355L172 346L398 346L396 368L170 368Z"/><path d="M281 140L350 66L416 137" fill="none" stroke="#000" stroke-width="19" stroke-linejoin="miter"/></g>
<text x="281.90" y="368.50" font-size="28.50" fill="#000" text-anchor="start" stroke="#000" stroke-width="0.25">0</text>
<g transform="translate(395.80 318.20) scale(0.08673)"><path stroke="#fff" stroke-width="7" d="M103 268C120 235 160 200 210 188C235 183 255 182 273 183C272 230 268 280 263 318C256 345 248 365 240 385C231 408 224 430 216 451C208 475 200 492 190 505C186 512 181 518 176 521L163 517C160 508 166 485 176 451C183 428 190 405 196 385C204 360 212 338 216 318C220 295 222 272 223 251C224 238 228 226 232 216C200 218 165 235 135 268C125 279 110 282 103 268Z"/><path stroke="#fff" stroke-width="7" d="M440 196L466 183C462 205 457 228 453 251C447 273 440 295 433 318C425 340 417 362 410 385C405 405 402 428 400 451C398 470 402 484 415 488C430 490 450 480 469 464L474 474C455 498 425 522 395 528C365 532 343 510 343 480C343 465 345 458 346 451C350 428 353 405 356 385C364 360 372 340 380 318C390 295 400 272 410 251C420 230 430 212 440 196Z"/><path d="M164 355L172 346L398 346L396 368L170 368Z"/><path d="M281 140L350 66L416 137" fill="none" stroke="#000" stroke-width="19" stroke-linejoin="miter"/></g>
<text x="156.60" y="411.60" font-size="32.50" fill="#000" text-anchor="start" stroke="#000" stroke-width="0.30">2</text>
<text x="173.20" y="411.60" font-size="33.50" fill="#000" text-anchor="start" stroke="#000" stroke-width="0.30">&#937;</text>
<rect x="139.30" y="426.80" width="74.8" height="1.35" fill="#000"/>
<text transform="translate(139.60 460.00) scale(1.430 1)" font-size="29.30" font-style="italic" fill="#000" text-anchor="start" stroke="#fff" stroke-width="0.10">m</text>
<text transform="translate(169.90 467.30) scale(1.020 1)" font-size="23.00" font-style="italic" fill="#000" text-anchor="start" stroke="#000" stroke-width="0.20">a</text>
<text transform="translate(184.10 460.00) scale(1.080 1)" font-size="29.30" font-style="italic" fill="#000" text-anchor="start" stroke="#000" stroke-width="0.10">c</text>
<text transform="translate(198.60 451.70) scale(1.300 1)" font-size="20.40" fill="#000" text-anchor="start" stroke="#000" stroke-width="0.20">2</text>
<path d="M228.00 424.60h23.8M228.00 431.70h23.8" stroke="#000" stroke-width="1.35" fill="none"/>
<text transform="translate(263.50 437.20) scale(1.050 1)" font-size="33.00" fill="#000" text-anchor="start" letter-spacing="0.6" stroke="#000" stroke-width="0.30">0.2</text>
<text transform="translate(514.00 541.10) scale(1.025 1)" font-size="37.20" fill="#EB6235" text-anchor="middle">T</text>
<text transform="translate(507.70 397.20) scale(1.060 1)" font-size="38.40" fill="#EB6235" text-anchor="middle" stroke="#fff" stroke-width="0.35">I</text>
<text transform="translate(707.40 568.20) scale(1.030 1)" font-size="34.00" font-style="italic" fill="#000" text-anchor="start" stroke="#000" stroke-width="0.10">q</text>
<text transform="translate(723.70 573.20) scale(1.040 1)" font-size="23.60" font-style="italic" fill="#000" text-anchor="start" stroke="#000" stroke-width="0.30">c</text>
<text transform="translate(689.60 426.30) scale(0.900 1)" font-size="44.00" fill="#000" text-anchor="start" stroke="#fff" stroke-width="0.35">(</text>
<text transform="translate(702.60 426.30) scale(1.045 1)" font-size="39.40" fill="#000" text-anchor="start" stroke="#fff" stroke-width="0.25">b</text>
<text transform="translate(724.70 426.30) scale(0.900 1)" font-size="44.00" fill="#000" text-anchor="start" stroke="#fff" stroke-width="0.35">)</text>
<g transform="translate(37.90 536.30) rotate(-90)">
<text transform="translate(4.90 0.00) scale(0.950 1)" font-size="40.00" font-style="italic" fill="#000" text-anchor="start" stroke="#fff" stroke-width="0.30">&#969;</text>
<path d="M34.4 9.5L50 -31.3" stroke="#000" stroke-width="1.45" fill="none"/>
<text transform="translate(54.40 0.60) scale(0.860 1)" font-size="45.40" fill="#000" text-anchor="start" stroke="#fff" stroke-width="0.40">(</text>
<text transform="translate(66.60 0.00) scale(1.235 1)" font-size="40.50" font-style="italic" fill="#000" text-anchor="start" stroke="#fff" stroke-width="0.56">m</text>
<text transform="translate(102.50 6.90) scale(1.150 1)" font-size="28.00" font-style="italic" fill="#000" text-anchor="start" stroke="#fff" stroke-width="0.21">a</text>
<text transform="translate(119.20 0.00) scale(0.950 1)" font-size="40.50" font-style="italic" fill="#000" text-anchor="start" stroke="#fff" stroke-width="0.30">c</text>
<text transform="translate(136.10 -16.70) scale(1.100 1)" font-size="28.30" fill="#000" text-anchor="start">2</text>
<text transform="translate(153.60 0.60) scale(0.860 1)" font-size="45.40" fill="#000" text-anchor="start" stroke="#fff" stroke-width="0.40">)</text>
</g>
<text transform="translate(394.20 680.60) scale(1.070 1)" font-size="40.20" font-style="italic" fill="#000" text-anchor="start" stroke="#fff" stroke-width="0.30">q</text>
<path d="M415.9 690.8L432.9 650" stroke="#000" stroke-width="1.45" fill="none"/>
<text transform="translate(436.40 681.30) scale(0.920 1)" font-size="45.40" fill="#000" text-anchor="start" stroke="#fff" stroke-width="0.40">(</text>
<text transform="translate(448.30 680.60) scale(1.240 1)" font-size="40.20" font-style="italic" fill="#000" text-anchor="start" stroke="#fff" stroke-width="0.55">m</text>
<text transform="translate(483.10 687.30) scale(1.100 1)" font-size="27.40" font-style="italic" fill="#000" text-anchor="start" stroke="#fff" stroke-width="0.21">a</text>
<text transform="translate(501.20 680.60) scale(0.900 1)" font-size="40.20" font-style="italic" fill="#000" text-anchor="start" stroke="#fff" stroke-width="0.30">c</text>
<text transform="translate(518.65 681.30) scale(0.920 1)" font-size="45.40" fill="#000" text-anchor="start" stroke="#fff" stroke-width="0.40">)</text>
</svg></body></html>
